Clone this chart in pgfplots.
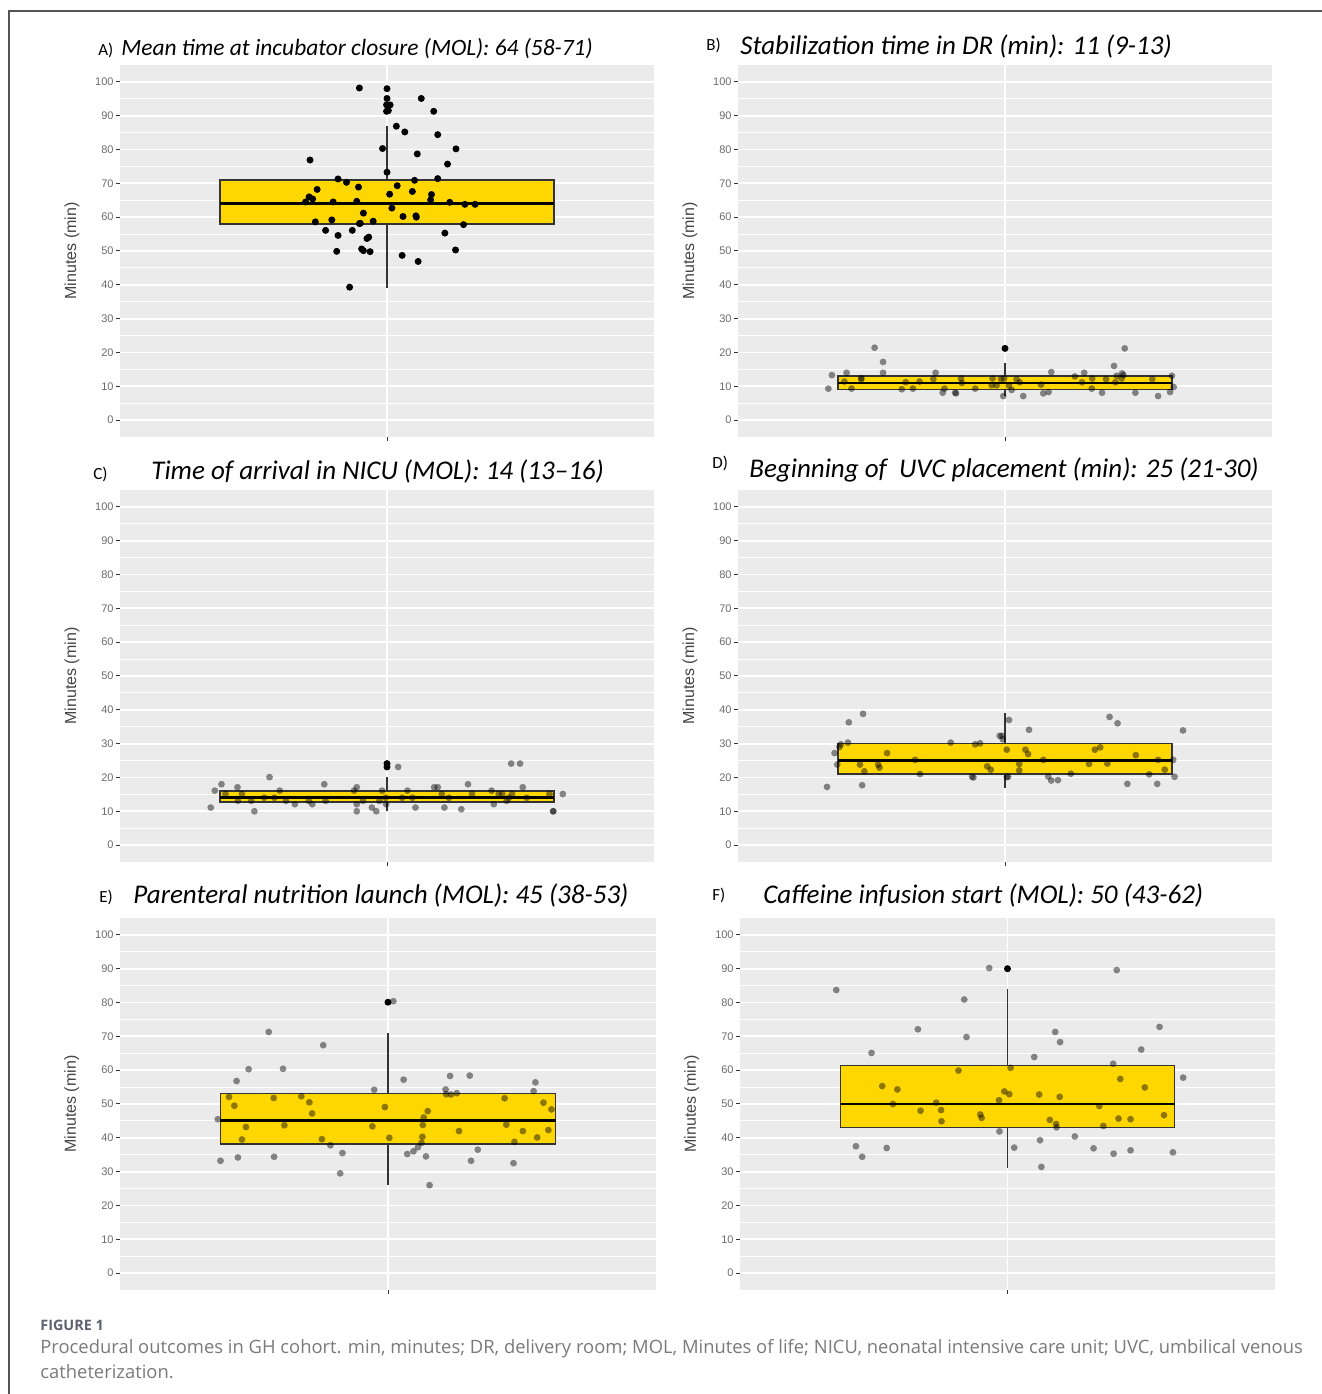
\documentclass[border=0pt]{standalone}
\usepackage{fontspec}
\usepackage{pgfplots}
\pgfplotsset{compat=1.18}
\setmainfont{Liberation Sans}
\newfontfamily\calibri{Carlito}
\newfontfamily\capfont{Open Sans}

\definecolor{ggbg}{HTML}{EBEBEB}
\definecolor{gggold}{HTML}{FFD700}
\definecolor{boxline}{HTML}{333333}
\definecolor{ticklab}{HTML}{6B6B6B}
\definecolor{ylab}{HTML}{444444}
\definecolor{capgray}{HTML}{7A7A7A}
\definecolor{figgray}{HTML}{5E6270}
\definecolor{framegray}{HTML}{555555}

\pgfplotsset{
 ggpanel/.style={
  scale only axis, width=267pt, height=186pt,
  xmin=0.4, xmax=1.6, ymin=-5, ymax=105,
  axis background/.style={fill=ggbg},
  axis line style={draw=none},
  xtick={1}, xticklabels={},
  ytick={0,10,...,100}, minor ytick={5,15,...,95},
  xmajorgrids, ymajorgrids, yminorgrids,
  major grid style={white, line width=0.9pt},
  minor grid style={white, line width=0.45pt},
  tick pos=left,
  tick align=outside, major tick length=2pt, minor tick length=0pt,
  tick style={color=boxline, line width=0.5pt},
  yticklabel style={font=\fontsize{5.5}{6.5}\selectfont, color=ticklab, inner sep=1pt},
  /pgf/number format/assume math mode=true,
  ylabel={Minutes (min)},
  ylabel style={at={(axis description cs:-0.09,0.5)}, anchor=center, font=\fontsize{8}{9.6}\selectfont, color=ylab},
  clip=false,
 },
 jitblack/.style={only marks, mark=*, mark size=1.75pt, mark options={draw opacity=0, fill=black}},
 jitgray/.style={only marks, mark=*, mark size=1.7pt, mark options={draw opacity=0, fill=black, fill opacity=0.45}},
}

% #1 Q1, #2 median, #3 Q3, #4 lower whisker, #5 upper whisker
\newcommand{\ggbox}[5]{%
\addplot[boxline, line width=0.75pt] coordinates {(1,#4)(1,#1)};
\addplot[boxline, line width=0.75pt] coordinates {(1,#3)(1,#5)};
\addplot[fill=gggold, draw=boxline, line width=0.75pt, line join=miter] coordinates {(0.625,#1)(1.375,#1)(1.375,#3)(0.625,#3)} -- cycle;
\addplot[black, line width=1.3pt] coordinates {(0.625,#2)(1.375,#2)};
}

\newcommand{\ttl}[2][13.5]{{\calibri\itshape\fontsize{#1}{15}\selectfont #2}}
\newcommand{\lab}[1]{{\calibri\fontsize{8.5}{10}\selectfont #1}}

\begin{document}
\begin{tikzpicture}
\useasboundingbox (0,0) rectangle (661pt,697pt);
\draw[framegray, line width=0.75pt] (4.5pt,0) -- (4.5pt,691.5pt) -- (661pt,691.5pt);

% ---------- A ----------
\begin{axis}[ggpanel, at={(60pt,478.5pt)}, anchor=south west]
\ggbox{58}{64}{71}{39}{87}
\addplot[jitblack] coordinates {
(0.938,98.2)(1.0,98.0)(1.0,95.1)(1.077,95.1)(0.999,93.2)(1.007,93.2)(0.999,91.3)(1.003,91.5)(1.105,91.3)(1.021,86.9)(1.040,85.2)(1.114,84.4)(0.990,80.3)(1.155,80.2)(1.068,78.7)(0.827,76.9)(1.136,75.7)(1.0,73.3)(1.114,71.4)(0.890,71.3)(0.909,70.3)(1.062,70.9)(0.936,68.9)(1.023,69.3)(0.843,68.2)(1.057,67.6)(1.006,66.8)(1.100,66.7)(0.825,66.0)(0.833,65.4)(1.098,65.1)(0.817,64.5)(0.879,64.5)(0.932,64.7)(1.141,64.4)(1.175,63.8)(1.198,63.8)(1.011,62.7)(0.947,61.2)(1.036,60.2)(1.065,60.4)(1.066,60.0)(0.839,58.6)(0.876,59.2)(0.969,58.8)(0.938,58.1)(0.940,58.2)(1.172,57.8)(0.862,56.1)(0.922,56.1)(1.130,55.3)(0.890,54.6)(0.955,53.7)(0.959,54.1)(0.887,49.9)(0.943,50.6)(0.947,50.1)(0.962,49.8)(1.154,50.3)(1.034,48.7)(1.070,46.9)(0.916,39.3)
};
\end{axis}

% ---------- B ----------
\begin{axis}[ggpanel, at={(369pt,478.5pt)}, anchor=south west]
\ggbox{9}{11}{13}{7}{17}
\addplot[jitblack] coordinates {(1,21.2)};
\addplot[jitgray] coordinates {
(0.603,9.3)(0.611,13.3)(0.639,11.4)(0.644,14.0)(0.655,9.3)(0.677,12.1)(0.677,12.4)(0.707,21.4)(0.726,17.2)(0.726,14.0)(0.768,9.1)(0.777,11.2)(0.793,9.3)(0.808,11.4)(0.839,12.1)(0.844,14.0)(0.860,8.1)(0.864,9.3)(0.888,8.1)(0.890,7.9)(0.901,12.3)(0.903,11.0)(0.933,9.3)(0.970,10.3)(0.972,12.3)(0.981,10.3)(0.991,12.1)(0.996,7.1)(0.998,12.3)(1.009,10.2)(1.015,8.9)(1.026,12.1)(1.033,11.2)(1.041,7.1)(1.081,10.5)(1.086,7.9)(1.098,8.3)(1.104,14.2)(1.157,12.9)(1.173,11.2)(1.178,14.0)(1.195,9.3)(1.196,12.3)(1.218,8.1)(1.227,12.1)(1.245,16.0)(1.248,11.2)(1.251,13.1)(1.262,12.3)(1.263,13.8)(1.266,13.3)(1.269,21.2)(1.293,8.1)(1.331,12.1)(1.344,7.1)(1.371,8.3)(1.375,13.1)(1.379,9.8)
};
\end{axis}

% ---------- C ----------
\begin{axis}[ggpanel, at={(60pt,266pt)}, anchor=south west]
\ggbox{12.8}{14}{16}{10.2}{20}
\addplot[jitblack] coordinates {(1,24.1)(1,23.1)};
\addplot[jitgray] coordinates {
(0.604,11.1)(0.613,16.1)(0.628,18.0)(0.637,15.1)(0.664,17.1)(0.665,13.1)(0.674,15.1)(0.695,13.1)(0.702,10.0)(0.724,14.0)(0.736,20.1)(0.747,14.0)(0.759,16.1)(0.773,13.1)(0.793,12.1)(0.824,13.1)(0.832,12.1)(0.859,18.0)(0.862,13.1)(0.926,16.1)(0.932,17.1)(0.932,12.1)(0.932,10.0)(0.946,13.1)(0.966,11.1)(0.976,10.0)(0.983,13.1)(0.989,16.1)(0.997,14.0)(0.998,12.1)(1.025,23.1)(1.034,14.0)(1.046,16.1)(1.057,14.0)(1.064,11.1)(1.106,17.1)(1.114,17.1)(1.123,15.1)(1.129,11.1)(1.139,14.0)(1.167,10.6)(1.182,18.0)(1.191,15.1)(1.235,16.1)(1.240,12.1)(1.251,15.1)(1.259,15.1)(1.269,13.1)(1.274,14.0)(1.279,24.1)(1.281,15.1)(1.299,24.1)(1.305,17.1)(1.314,14.0)(1.365,15.1)(1.373,10.0)(1.374,10.0)(1.395,15.1)
};
\end{axis}

% ---------- D ----------
\begin{axis}[ggpanel, at={(369pt,266pt)}, anchor=south west]
\ggbox{21}{25}{30}{17}{39}
\addplot[jitgray] coordinates {
(0.600,17.2)(0.617,27.2)(0.623,23.8)(0.628,29.0)(0.631,29.8)(0.647,30.3)(0.649,36.3)(0.674,23.8)(0.679,17.7)(0.681,38.8)(0.684,21.8)(0.715,23.8)(0.718,22.9)(0.735,27.2)(0.798,25.2)(0.809,21.0)(0.878,30.3)(0.926,20.2)(0.929,20.0)(0.933,29.8)(0.944,30.1)(0.960,23.3)(0.968,22.3)(0.988,32.3)(0.993,32.3)(0.995,31.3)(1.004,28.2)(1.004,20.1)(1.007,20.2)(1.009,37.0)(1.032,24.0)(1.032,22.1)(1.046,28.2)(1.052,26.9)(1.054,34.1)(1.086,25.2)(1.097,20.3)(1.104,19.1)(1.119,19.2)(1.148,21.1)(1.189,24.0)(1.202,28.2)(1.214,28.9)(1.230,24.1)(1.235,37.9)(1.253,36.0)(1.275,18.1)(1.294,26.6)(1.324,20.9)(1.342,18.1)(1.344,25.2)(1.359,22.3)(1.378,25.2)(1.381,20.2)(1.400,33.9)
};
\end{axis}

% ---------- E ----------
\begin{axis}[ggpanel, width=268pt, at={(60pt,52pt)}, anchor=south west]
\ggbox{38.2}{45.1}{53.1}{26}{71}
\addplot[jitblack] coordinates {(1,80.1)};
\addplot[jitgray] coordinates {
(0.619,45.5)(0.625,33.2)(0.644,52.1)(0.656,49.5)(0.661,56.8)(0.664,34.2)(0.673,39.5)(0.682,43.2)(0.688,60.3)(0.733,71.3)(0.744,51.8)(0.745,34.4)(0.765,60.4)(0.768,43.7)(0.806,52.3)(0.824,50.5)(0.830,47.2)(0.852,39.6)(0.855,67.4)(0.871,37.8)(0.893,29.5)(0.898,35.5)(0.965,43.4)(0.969,54.2)(0.993,49.1)(1.003,40.0)(1.012,80.4)(1.035,57.2)(1.043,35.2)(1.057,36.0)(1.067,37.2)(1.075,38.5)(1.077,40.3)(1.078,43.8)(1.080,46.0)(1.085,34.5)(1.089,47.9)(1.093,26.0)(1.129,54.3)(1.130,52.9)(1.139,58.3)(1.141,52.8)(1.154,53.2)(1.159,42.0)(1.183,58.4)(1.186,33.2)(1.201,36.5)(1.261,51.7)(1.265,43.9)(1.281,32.5)(1.283,38.8)(1.302,42.0)(1.326,53.8)(1.330,56.4)(1.334,40.1)(1.348,50.4)(1.359,42.3)(1.366,48.4)
};
\end{axis}

% ---------- F ----------
\begin{axis}[ggpanel, width=267.5pt, at={(370pt,52pt)}, anchor=south west]
\ggbox{43}{50}{61.4}{31}{84}
\addplot[jitblack] coordinates {(1,90.0)};
\addplot[jitgray] coordinates {
(0.616,83.7)(0.660,37.5)(0.674,34.4)(0.695,65.1)(0.719,55.3)(0.729,37.0)(0.743,50.0)(0.753,54.3)(0.799,72.1)(0.805,48.0)(0.840,50.4)(0.851,48.2)(0.852,44.9)(0.890,59.9)(0.903,80.9)(0.908,69.8)(0.939,46.9)(0.942,45.9)(0.959,90.2)(0.981,51.1)(0.982,41.9)(0.993,53.7)(1.004,52.9)(1.007,60.7)(1.015,37.1)(1.060,63.9)(1.071,52.8)(1.073,39.3)(1.076,31.4)(1.095,45.3)(1.107,71.3)(1.109,44.1)(1.110,43.1)(1.117,52.1)(1.118,68.3)(1.151,40.4)(1.193,36.9)(1.206,49.4)(1.215,43.5)(1.237,61.9)(1.238,35.3)(1.245,89.6)(1.249,45.7)(1.253,57.4)(1.276,45.5)(1.276,36.3)(1.300,66.1)(1.308,54.9)(1.341,72.8)(1.351,46.7)(1.371,35.7)(1.394,57.8)
};
\end{axis}

% ---------- titles ----------
\node[anchor=base west, inner sep=0pt] at (49pt,669pt) {\lab{A)}};
\node[anchor=base west, inner sep=0pt] at (60.5pt,669pt) {\ttl[11.7]{Mean time at incubator closure (MOL): 64 (58-71)}};
\node[anchor=base west, inner sep=0pt] at (353pt,671.5pt) {\lab{B)}};
\node[anchor=base west, inner sep=0pt] at (370pt,669.5pt) {\ttl{Stabilization time in DR (min): 11 (9-13)}};
\node[anchor=base west, inner sep=0pt] at (46.5pt,457pt) {\lab{C)}};
\node[anchor=base west, inner sep=0pt] at (75.5pt,457pt) {\ttl{Time of arrival in NICU (MOL): 14 (13–16)}};
\node[anchor=base west, inner sep=0pt] at (356pt,462.5pt) {\lab{D)}};
\node[anchor=base west, inner sep=0pt] at (374.5pt,458pt) {\ttl{Beginning of\ \ UVC placement (min): 25 (21-30)}};
\node[anchor=base west, inner sep=0pt] at (49.5pt,245.5pt) {\lab{E)}};
\node[anchor=base west, inner sep=0pt] at (66.5pt,245pt) {\ttl{Parenteral nutrition launch (MOL): 45 (38-53)}};
\node[anchor=base west, inner sep=0pt] at (356pt,246.5pt) {\lab{F)}};
\node[anchor=base west, inner sep=0pt] at (381.5pt,245pt) {\ttl{Caffeine infusion start (MOL): 50 (43-62)}};

% ---------- caption ----------
\node[anchor=base west, inner sep=0pt, color=figgray] at (20pt,31.5pt) {\capfont\bfseries\fontsize{7.2}{8}\selectfont FIGURE 1};
\node[anchor=base west, inner sep=0pt, color=capgray] at (20pt,20pt) {\capfont\fontsize{9.2}{11}\selectfont Procedural outcomes in GH cohort. min, minutes; DR, delivery room; MOL, Minutes of life; NICU, neonatal intensive care unit; UVC, umbilical venous};
\node[anchor=base west, inner sep=0pt, color=capgray] at (20pt,8pt) {\capfont\fontsize{9.2}{11}\selectfont catheterization.};
\end{tikzpicture}
\end{document}
